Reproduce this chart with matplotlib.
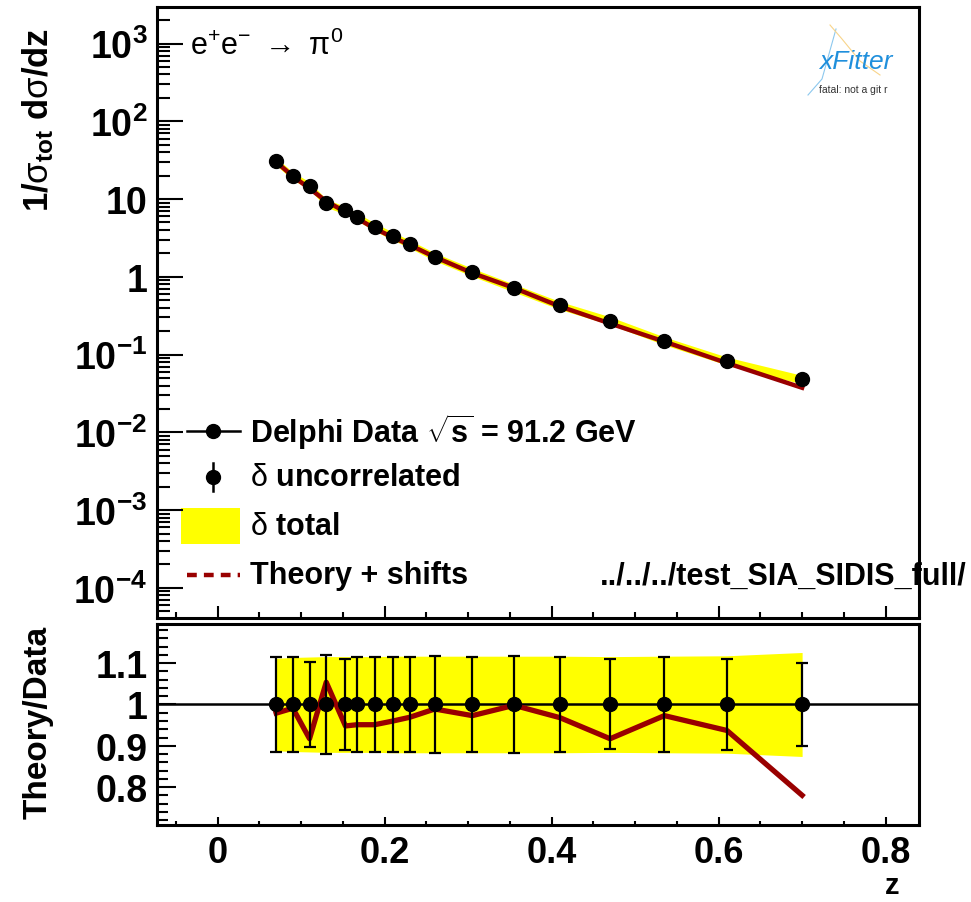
import matplotlib
matplotlib.use("Agg")
import matplotlib.pyplot as plt
from matplotlib.ticker import FixedLocator, FixedFormatter, MultipleLocator, LogLocator, NullFormatter
from matplotlib.patches import Rectangle
from matplotlib.lines import Line2D
import numpy as np

plt.rcParams['font.family'] = ['Liberation Sans', 'DejaVu Sans']
plt.rcParams['mathtext.fontset'] = 'custom'
plt.rcParams['mathtext.rm'] = 'Liberation Sans'
plt.rcParams['mathtext.bf'] = 'Liberation Sans:bold'
plt.rcParams['mathtext.it'] = 'Liberation Sans:italic'
plt.rcParams['mathtext.sf'] = 'Liberation Sans'

# -----------------------------
# DATA
# -----------------------------
z = [0.07, 0.09, 0.11, 0.13, 0.153, 0.167, 0.188, 0.21, 0.23, 0.26,
     0.305, 0.355, 0.41, 0.47, 0.535, 0.61, 0.70]
xsec = [30.6, 19.9, 14.9, 8.9, 7.2, 5.95, 4.4, 3.35, 2.65, 1.82,
        1.15, 0.72, 0.43, 0.274, 0.151, 0.083, 0.048]
ratio = [0.979, 0.991, 0.917, 1.054, 0.948, 0.951, 0.951, 0.960, 0.969, 0.989,
         0.973, 0.998, 0.968, 0.917, 0.973, 0.937, 0.780]
err_unc = [0.115, 0.115, 0.104, 0.121, 0.111, 0.114, 0.114, 0.114, 0.114, 0.118,
           0.116, 0.118, 0.114, 0.109, 0.116, 0.111, 0.101]
err_tot = [0.112, 0.114, 0.115, 0.116, 0.116, 0.116, 0.116, 0.117, 0.117, 0.117,
           0.117, 0.117, 0.117, 0.116, 0.117, 0.118, 0.126]

yticks_top = [1e-4, 1e-3, 1e-2, 1e-1, 1, 10, 1e2, 1e3]
ylabels_top = [r'$\mathbf{10^{-4}}$', r'$\mathbf{10^{-3}}$', r'$\mathbf{10^{-2}}$',
               r'$\mathbf{10^{-1}}$', '1', '10', r'$\mathbf{10^{2}}$', r'$\mathbf{10^{3}}$']
yticks_bot = [0.8, 0.9, 1.0, 1.1]
ylabels_bot = ['0.8', '0.9', '1', '1.1']
xticks = [0, 0.2, 0.4, 0.6, 0.8]
xlabels = ['0', '0.2', '0.4', '0.6', '0.8']

RED = '#990000'
W, H = 971, 903

z = np.array(z)
xsec = np.array(xsec)
ratio = np.array(ratio)
err_unc = np.array(err_unc)
err_tot = np.array(err_tot)

fig = plt.figure(figsize=(W / 100, H / 100), dpi=100)
ax1 = fig.add_axes([157 / W, 1 - 619 / H, 762 / W, 611 / H])
ax2 = fig.add_axes([157 / W, 1 - 826 / H, 762 / W, 201 / H])

# ------------------------------------------------------------
# top panel
# ------------------------------------------------------------
ax1.fill_between(z, xsec * (1 - err_tot), xsec * (1 + err_tot), color='yellow', lw=0, zorder=1)
ax1.plot(z, xsec * ratio, color=RED, lw=3.2, zorder=2)
ax1.errorbar(z, xsec, yerr=xsec * err_unc, fmt='o', color='black', ms=10,
             elinewidth=1.5, capsize=0, zorder=3)
ax1.set_yscale('log')
ax1.set_xlim(-0.0727, 0.840)
ax1.set_ylim(4.1e-5, 2950)
ax1.yaxis.set_major_locator(FixedLocator(yticks_top))
ax1.yaxis.set_major_formatter(FixedFormatter(ylabels_top))
ax1.yaxis.set_minor_locator(LogLocator(base=10, subs=np.arange(2, 10), numticks=30))
ax1.yaxis.set_minor_formatter(NullFormatter())
ax1.xaxis.set_major_locator(FixedLocator(xticks))
ax1.xaxis.set_minor_locator(MultipleLocator(0.05))
ax1.set_xticklabels([])
ax1.tick_params(axis='y', which='major', direction='in', length=19, width=1.5,
                labelsize=27, pad=7)
ax1.tick_params(axis='y', which='minor', direction='in', length=9.5, width=1.5)
ax1.tick_params(axis='x', which='major', direction='in', length=9, width=1.5)
ax1.tick_params(axis='x', which='minor', direction='in', length=4.5, width=1.5)
for lab in ax1.get_yticklabels():
    lab.set_fontweight('bold')

ax1.text(0.043, 0.938, r'e$^{+}$e$^{-}$ $\rightarrow$ $\mathrm{\pi}^{0}$', transform=ax1.transAxes,
         fontsize=22, va='center', ha='left')


def afr(px, py):
    return (px - 157) / 762, 1 - (py - 8) / 611


# manual legend
tr = ax1.transAxes
x0, _ = afr(187, 0)
x1, _ = afr(240, 0)
xm, _ = afr(213, 0)
xt, _ = afr(250, 0)
_, y_a = afr(0, 432)
_, y_b = afr(0, 478)
_, y_c = afr(0, 527)
_, y_d = afr(0, 576)
ax1.add_line(Line2D([x0, x1], [y_a, y_a], color='black', lw=1.8, transform=tr))
ax1.add_line(Line2D([xm], [y_a], marker='o', ms=10, color='black', transform=tr))
_, yb0 = afr(0, 492)
_, yb1 = afr(0, 464)
ax1.add_line(Line2D([xm, xm], [yb0, yb1], color='black', lw=1.8, transform=tr))
ax1.add_line(Line2D([xm], [y_b], marker='o', ms=10, color='black', transform=tr))
rx0, ry0 = afr(181, 545)
rx1, ry1 = afr(240, 509)
ax1.add_patch(Rectangle((rx0, ry0), rx1 - rx0, ry1 - ry0, transform=tr,
                        facecolor='yellow', edgecolor='none'))
ax1.add_line(Line2D([x0, x1], [y_d, y_d], color=RED, lw=3.2, ls=(0, (2.2, 1.6)),
                    transform=tr))
ax1.text(xt, y_a, r'Delphi Data $\mathbf{\sqrt{s}}$ = 91.2 GeV', transform=tr,
         fontsize=22, fontweight='bold', va='center', ha='left')
ax1.text(xt, y_b, r'$\mathrm{\delta}$ uncorrelated', transform=tr,
         fontsize=22, fontweight='bold', va='center', ha='left')
ax1.text(xt, y_c, r'$\mathrm{\delta}$ total', transform=tr,
         fontsize=22, fontweight='bold', va='center', ha='left')
ax1.text(xt, y_d, 'Theory + shifts', transform=tr,
         fontsize=22, fontweight='bold', va='center', ha='left')

fig.text(600 / W, 1 - 577 / H, '../../../test_SIA_SIDIS_full/', fontsize=22,
         fontweight='bold', va='center', ha='left')

# logo
fig.add_artist(Line2D([808 / W, 822 / W, 836 / W], [1 - 96 / H, 1 - 80 / H, 1 - 30 / H],
                      color='#8cc8ee', lw=0.8))
fig.add_artist(Line2D([830 / W, 842 / W, 860 / W, 880 / W],
                      [1 - 26 / H, 1 - 40 / H, 1 - 62 / H, 1 - 76 / H],
                      color='#f8d48a', lw=0.8))
fig.text(856 / W, 1 - 62 / H, 'xFitter', fontsize=19, style='italic', color='#1f8fdc',
         va='center', ha='center')
fig.text(853 / W, 1 - 90 / H, 'fatal: not a git r', fontsize=7.5, color='#333333',
         va='center', ha='center')

# ------------------------------------------------------------
# ratio panel
# ------------------------------------------------------------
ax2.fill_between(z, 1 - err_tot, 1 + err_tot, color='yellow', lw=0, zorder=1)
ax2.axhline(1.0, color='black', lw=1.8, zorder=2)
ax2.plot(z, ratio, color=RED, lw=3.8, zorder=3)
ax2.errorbar(z, np.ones_like(z), yerr=err_unc, fmt='o', color='black', ms=10,
             elinewidth=1.6, capsize=4, capthick=1.6, zorder=4)
ax2.set_xlim(-0.0727, 0.840)
ax2.set_ylim(0.708, 1.195)
ax2.yaxis.set_major_locator(FixedLocator(yticks_bot))
ax2.yaxis.set_major_formatter(FixedFormatter(ylabels_bot))
ax2.yaxis.set_minor_locator(MultipleLocator(0.02))
ax2.xaxis.set_major_locator(FixedLocator(xticks))
ax2.xaxis.set_major_formatter(FixedFormatter(xlabels))
ax2.xaxis.set_minor_locator(MultipleLocator(0.05))
ax2.tick_params(axis='y', which='major', direction='in', length=14, width=1.5,
                labelsize=27, pad=7)
ax2.tick_params(axis='y', which='minor', direction='in', length=8, width=1.5)
ax2.tick_params(axis='x', which='major', direction='in', length=6, width=1.5,
                labelsize=26, pad=7)
ax2.tick_params(axis='x', which='minor', direction='in', length=3, width=1.5)
for lab in ax2.get_yticklabels() + ax2.get_xticklabels():
    lab.set_fontweight('bold')

for ax in (ax1, ax2):
    for sp in ax.spines.values():
        sp.set_linewidth(2.2)

# axis titles
fig.text(38 / W, 1 - 120 / H, r'1/$\mathrm{\sigma}_{\mathbf{tot}}$ d$\mathrm{\sigma}$/dz', rotation=90,
         fontsize=25, fontweight='bold', va='center', ha='center')
fig.text(38 / W, 1 - 722 / H, 'Theory/Data', rotation=90,
         fontsize=24, fontweight='bold', va='center', ha='center')
fig.text(892 / W, 1 - 894 / H, 'z', fontsize=21, fontweight='bold', va='baseline', ha='center')

fig.savefig('out.png', dpi=100)
plt.close(fig)
